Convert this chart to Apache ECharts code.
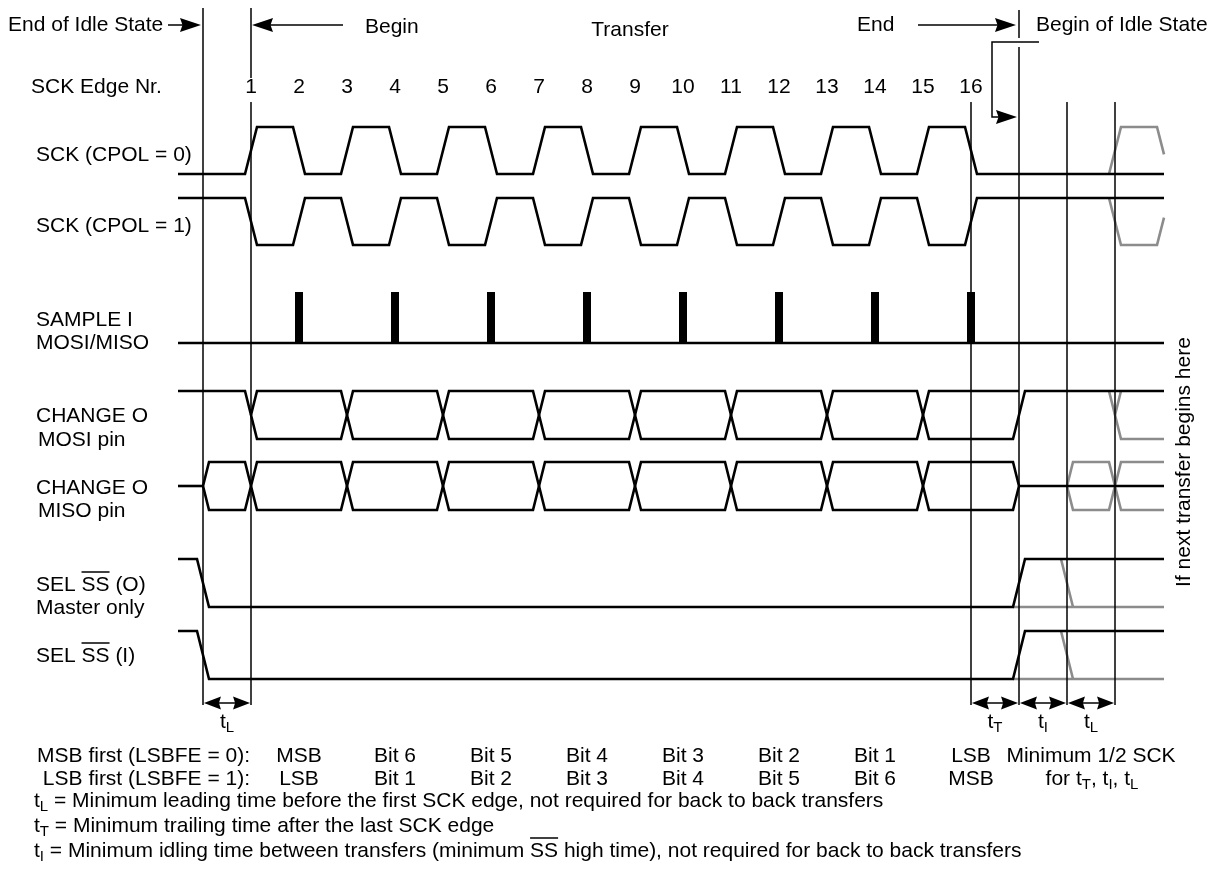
<!DOCTYPE html>
<html><head><meta charset="utf-8">
<script src="https://cdn.jsdelivr.net/npm/echarts@6/dist/echarts.min.js"></script>
<style>html,body{margin:0;padding:0;background:#fff}#chart{width:1219px;height:882px}</style>
</head><body><div id="chart"></div>
<script>
// ================= DATA (time unit = one SCK edge) =================
const edgeNumbers = ['1','2','3','4','5','6','7','8','9','10','11','12','13','14','15','16'];
const sckEdges = [1,2,3,4,5,6,7,8,9,10,11,12,13,14,15,16];
const nextSckEdges = [19,20];
const samplePoints = [2,4,6,8,10,12,14,16];
const mosiFirstChange = 1;
const mosiChanges = [3,5,7,9,11,13,15];
const mosiIdleReturn = 17;
const misoStart = 0;
const misoChanges = [1,3,5,7,9,11,13,15];
const misoEnd = 17;
const ssEdges = [0,17];
const nextSsFall = 18;
const nextMisoStart = 18;
const nextDataChange = 19;
const timingMarks = [0,1,16,17,18,19];
const timingSpans = [[0,1],[16,17],[17,18],[18,19]];
const timingSubs = ['L','T','I','L'];
const msbFirstLabels = ['MSB','Bit 6','Bit 5','Bit 4','Bit 3','Bit 2','Bit 1','LSB'];
const lsbFirstLabels = ['LSB','Bit 1','Bit 2','Bit 3','Bit 4','Bit 5','Bit 6','MSB'];
const signalLabels = ['SCK (CPOL = 0)','SCK (CPOL = 1)','SAMPLE I','MOSI/MISO','CHANGE O','MOSI pin','CHANGE O','MISO pin','Master only'];
const ssLabels = [['SEL ','SS',' (O)'],['SEL ','SS',' (I)']];
const headerTexts = ['End of Idle State','Begin','Transfer','End','Begin of Idle State','SCK Edge Nr.'];
const orderLabels = ['MSB first (LSBFE = 0):','LSB first (LSBFE = 1):'];
const minNote = 'Minimum 1/2 SCK';
const footnoteSubs = ['L','T','I'];
const footnoteTexts = [
  ' = Minimum leading time before the first SCK edge, not required for back to back transfers',
  ' = Minimum trailing time after the last SCK edge',
  [' = Minimum idling time between transfers (minimum ','SS',' high time), not required for back to back transfers']
];
const sideNote = 'If next transfer begins here';

// ================= LAYOUT / STYLE =================
const W = 1219, H = 882, X0 = 203, PX = 48;
const T_START = (178 - X0) / PX, T_END = (1164 - X0) / PX;
const HW = 0.125;
const FONT = '"Liberation Sans", Arial, Helvetica, sans-serif';
const FS = 21, SUB = 15;
const BLACK = '#000', GRAY = '#8c8c8c';
const rows = {
  sck0: {hi:127, lo:174}, sck1: {hi:198, lo:245}, sample: {base:343, top:292},
  mosi: {hi:391, lo:439}, miso: {hi:462, lo:510}, sso: {hi:559, lo:607}, ssi: {hi:631, lo:679}
};
const mid = r => (r.hi + r.lo) / 2;
const tx = px => (px - X0) / PX;

function clock(edges, startHigh, from, to, r) {
  let lv = startHigh;
  const y = () => lv ? r.hi : r.lo;
  const pts = [[from, y()]];
  edges.forEach(e => { pts.push([e - HW, y()]); lv = !lv; pts.push([e + HW, y()]); });
  pts.push([to, y()]);
  return pts;
}
function clipTo(pts, tmax) {
  const out = [];
  for (let i = 0; i < pts.length; i++) {
    if (pts[i][0] <= tmax) out.push(pts[i]);
    else { const p = pts[i-1], q = pts[i]; const f = (tmax - p[0]) / (q[0] - p[0]); out.push([tmax, p[1] + f * (q[1] - p[1])]); break; }
  }
  return out;
}

const black = [], gray = [];
// SCK
black.push(clock(sckEdges, false, T_START, T_END, rows.sck0));
black.push(clock(sckEdges, true, T_START, T_END, rows.sck1));
gray.push(clipTo(clock(nextSckEdges, false, nextSckEdges[0] - HW, 30, rows.sck0), T_END));
gray.push(clipTo(clock(nextSckEdges, true, nextSckEdges[0] - HW, 30, rows.sck1), T_END));
// SAMPLE baseline
black.push([[T_START, rows.sample.base], [T_END, rows.sample.base]]);
// MOSI
black.push(clock([mosiFirstChange].concat(mosiChanges), true, T_START, mosiIdleReturn, rows.mosi));
black.push([[mosiFirstChange, mid(rows.mosi)]].concat(clock(mosiChanges.concat([mosiIdleReturn]), true, mosiFirstChange + HW, T_END, rows.mosi)));
gray.push(clock([nextDataChange], true, nextDataChange - HW, T_END, rows.mosi));
gray.push([[nextDataChange, mid(rows.mosi)], [nextDataChange + HW, rows.mosi.hi]]);
// MISO
black.push([[T_START, mid(rows.miso)], [misoStart, mid(rows.miso)]]);
black.push([[misoStart, mid(rows.miso)]].concat(clock(misoChanges, true, misoStart + HW, misoEnd - HW, rows.miso)).concat([[misoEnd, mid(rows.miso)]]));
black.push([[misoStart, mid(rows.miso)]].concat(clock(misoChanges, false, misoStart + HW, misoEnd - HW, rows.miso)).concat([[misoEnd, mid(rows.miso)]]));
black.push([[misoEnd, mid(rows.miso)], [T_END, mid(rows.miso)]]);
gray.push([[nextMisoStart, mid(rows.miso)]].concat(clock([nextDataChange], true, nextMisoStart + HW, T_END, rows.miso)));
gray.push([[nextMisoStart, mid(rows.miso)]].concat(clock([nextDataChange], false, nextMisoStart + HW, T_END, rows.miso)));
// SS
[rows.sso, rows.ssi].forEach(r => {
  black.push(clock(ssEdges, true, T_START, T_END, r));
  gray.push([[ssEdges[1] - HW, r.lo], [T_END, r.lo]]);
  gray.push([[nextSsFall - HW, r.hi], [nextSsFall + HW, r.lo]]);
});

// vertical marker lines (pixel y extents per mark)
const markExtents = {0: [[8,705]], 1: [[8,78],[102,705]], 16: [[102,705]], 17: [[10,38],[47,705]], 18: [[102,705]], 19: [[102,705]]};
const markerSegs = [];
timingMarks.forEach(t => markExtents[t].forEach(([a,b]) => markerSegs.push({coords: [[t, a], [t, b]]})));

// sample pulses
const pulseSegs = samplePoints.map(t => ({coords: [[t, rows.sample.base], [t, rows.sample.top]]}));

// annotation shafts and arrowheads  [tip t, y, direction, kind]
const shafts = [
  [[tx(168), 25], [tx(190), 25]],
  [[tx(265), 25], [tx(343), 25]],
  [[tx(918), 25], [tx(1004), 25]],
  [[tx(1039), 42], [tx(992), 42], [tx(992), 117], [tx(1005), 117]]
];
const heads = [
  [tx(201), 25, 1, 0], [tx(252), 25, -1, 0], [tx(1016), 25, 1, 0], [tx(1017), 117, 1, 0]
];
const SPAN_Y = 703;
const spanShafts = timingSpans.map(([a,b]) => ({coords: [[a + 0.25, SPAN_Y], [b - 0.25, SPAN_Y]]}));
timingSpans.forEach(([a,b]) => { heads.push([a + 0.02, SPAN_Y, -1, 1]); heads.push([b - 0.02, SPAN_Y, 1, 1]); });
const headSize = [{len: 21, wid: 14}, {len: 17, wid: 13}];

// text measurement for overlines
const mctx = document.createElement('canvas').getContext('2d');
function tw(s, fs) { mctx.font = fs + 'px "Liberation Sans"'; return mctx.measureText(s).width; }

const txt = (text, x, y, align, extra) => Object.assign({
  type: 'text', x: x, y: y, silent: true,
  style: {text: text, fill: BLACK, fontSize: FS, fontFamily: FONT, textAlign: align || 'left', textVerticalAlign: 'middle', verticalAlign: 'middle'}
}, extra || {});
const richStyle = {
  t: {fontSize: FS, fontFamily: FONT, fill: BLACK, color: BLACK, lineHeight: 26},
  s: {fontSize: SUB, fontFamily: FONT, fill: BLACK, color: BLACK, lineHeight: 12, verticalAlign: 'bottom'}
};
const richTxt = (text, x, y, align) => ({
  type: 'text', x: x, y: y, silent: true,
  style: {text: text, rich: richStyle, fill: BLACK, fontSize: FS, fontFamily: FONT, textAlign: align || 'left', textVerticalAlign: 'middle', verticalAlign: 'middle'}
});
const overline = (x1, x2, y) => ({type: 'line', silent: true, shape: {x1: x1, y1: y, x2: x2, y2: y}, style: {stroke: BLACK, lineWidth: 1.5}});

const graphics = [];
graphics.push(txt(headerTexts[0], 8, 25));
graphics.push(txt(headerTexts[1], 365, 27));
graphics.push(txt(headerTexts[2], 630, 30, 'center'));
graphics.push(txt(headerTexts[3], 857, 25));
graphics.push(txt(headerTexts[4], 1036, 25));
graphics.push(txt(headerTexts[5], 31, 87));
const labelPos = [[36,155],[36,226],[36,320],[36,343],[36,416],[38,440],[36,488],[38,511],[36,608]];
signalLabels.forEach((s, i) => graphics.push(txt(s, labelPos[i][0], labelPos[i][1])));
[[36,585],[36,656]].forEach(([x,y], i) => {
  const p = ssLabels[i];
  graphics.push(txt(p.join(''), x, y));
  const x1 = x + tw(p[0], FS), x2 = x1 + tw(p[1], FS);
  graphics.push(overline(x1, x2, y - 13));
});
graphics.push(txt(orderLabels[0], 250, 756, 'right'));
graphics.push(txt(orderLabels[1], 250, 779, 'right'));
graphics.push(txt(minNote, 1091, 756, 'center'));
graphics.push(richTxt('{t|for t}{s|T}{t|, t}{s|I}{t|, t}{s|L}', 1092, 779, 'center'));
const footY = [801, 826, 851];
footnoteTexts.forEach((f, i) => {
  const body = Array.isArray(f) ? f.join('') : f;
  graphics.push(richTxt('{t|t}{s|' + footnoteSubs[i] + '}{t|' + body + '}', 34, footY[i]));
  if (Array.isArray(f)) {
    const x1 = 34 + tw('t', FS) + tw(footnoteSubs[i], SUB) + tw(f[0], FS);
    graphics.push(overline(x1, x1 + tw(f[1], FS), footY[i] - 13));
  }
});
graphics.push(txt(sideNote, 1184, 462, 'center', {rotation: Math.PI / 2}));

const labelCommon = {show: true, position: 'inside', color: BLACK, opacity: 1, fontSize: FS, fontFamily: FONT};
const chart = echarts.init(document.getElementById('chart'), null, {renderer: 'canvas'});
chart.setOption({
  backgroundColor: '#fff',
  animation: false,
  grid: {left: 0, right: 0, top: 0, bottom: 0},
  xAxis: {type: 'value', min: -X0 / PX, max: (W - X0) / PX, show: false},
  yAxis: {type: 'value', min: 0, max: H, inverse: true, show: false},
  series: [
    {type: 'lines', coordinateSystem: 'cartesian2d', polyline: true, silent: true, z: 1,
     lineStyle: {color: GRAY, width: 2.6, opacity: 1, join: 'miter'}, data: gray.map(c => ({coords: c}))},
    {type: 'lines', coordinateSystem: 'cartesian2d', polyline: true, silent: true, z: 3,
     lineStyle: {color: BLACK, width: 2.6, opacity: 1, join: 'miter'}, data: black.map(c => ({coords: c}))},
    {type: 'lines', coordinateSystem: 'cartesian2d', silent: true, z: 2,
     lineStyle: {color: BLACK, width: 1.5, opacity: 1}, data: markerSegs},
    {type: 'lines', coordinateSystem: 'cartesian2d', silent: true, z: 3,
     lineStyle: {color: BLACK, width: 8, opacity: 1}, data: pulseSegs},
    {type: 'lines', coordinateSystem: 'cartesian2d', polyline: true, silent: true, z: 3,
     lineStyle: {color: BLACK, width: 1.5, opacity: 1}, data: shafts.map(c => ({coords: c})).concat(spanShafts)},
    {type: 'custom', silent: true, z: 4, clip: false, data: heads,
     renderItem: (params, api) => {
       const p = api.coord([api.value(0), api.value(1)]);
       const d = api.value(2), s = headSize[api.value(3)];
       return {type: 'polygon', shape: {points: [
         [p[0], p[1]], [p[0] - d * s.len, p[1] - s.wid / 2],
         [p[0] - d * s.len * 0.88, p[1]], [p[0] - d * s.len, p[1] + s.wid / 2]]},
         style: {fill: BLACK, stroke: null}};
     }},
    {type: 'scatter', silent: true, symbolSize: 0, z: 5, itemStyle: {opacity: 1},
     label: Object.assign({formatter: p => p.data[2]}, labelCommon),
     data: edgeNumbers.map((s, i) => [sckEdges[i], 87, s])},
    {type: 'scatter', silent: true, symbolSize: 0, z: 5, itemStyle: {opacity: 1},
     label: Object.assign({formatter: p => p.data[2]}, labelCommon),
     data: msbFirstLabels.map((s, i) => [samplePoints[i], 756, s]).concat(lsbFirstLabels.map((s, i) => [samplePoints[i], 779, s]))},
    {type: 'scatter', silent: true, symbolSize: 0, z: 5, itemStyle: {opacity: 1},
     label: Object.assign({
       formatter: p => '{t|t}{s|' + p.data[2] + '}',
       rich: {t: {fontSize: FS, fontFamily: FONT, color: BLACK, lineHeight: 26}, s: {fontSize: SUB, fontFamily: FONT, color: BLACK, lineHeight: 12, verticalAlign: 'bottom'}}}, labelCommon),
     data: timingSpans.map(([a,b], i) => [(a + b) / 2, 722, timingSubs[i]])}
  ],
  graphic: graphics
});
</script></body></html>
